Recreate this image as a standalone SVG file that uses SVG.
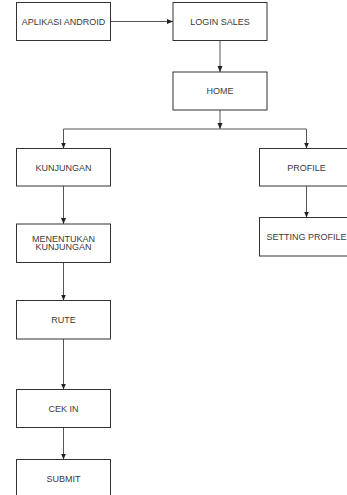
<svg xmlns="http://www.w3.org/2000/svg" width="347" height="495" viewBox="0 0 347 495">
  <style>
    .box rect { fill: #ffffff; stroke: #333333; stroke-width: 1; }
    .box text { font-family: "Liberation Sans", Arial, sans-serif; font-size: 9px; fill: #3a3a3a; text-anchor: middle; }
    .conn { fill: none; stroke: #555555; stroke-width: 1; }
  </style>
  <defs>
    <marker id="arrow" viewBox="0 0 6 6" refX="6" refY="3" markerWidth="6" markerHeight="6" markerUnits="userSpaceOnUse" orient="auto">
      <path d="M0,0.5 L6,3 L0,5.5 Z" fill="#222222"/>
    </marker>
  </defs>
  <rect width="347" height="495" fill="#ffffff"/>

  <g id="connectors">
    <path class="conn" d="M110.5,21.5 H173" marker-end="url(#arrow)"/>
    <path class="conn" d="M220,40.5 V72" marker-end="url(#arrow)"/>
    <path class="conn" d="M220,110 V129" marker-end="url(#arrow)"/>
    <path class="conn" d="M63.5,129 H306.5"/>
    <path class="conn" d="M63.5,129 V148.5" marker-end="url(#arrow)"/>
    <path class="conn" d="M306.5,129 V148.5" marker-end="url(#arrow)"/>
    <path class="conn" d="M63.5,186 V224" marker-end="url(#arrow)"/>
    <path class="conn" d="M306.5,186 V217.5" marker-end="url(#arrow)"/>
    <path class="conn" d="M63.5,262.5 V300.5" marker-end="url(#arrow)"/>
    <path class="conn" d="M63.5,339 V389.5" marker-end="url(#arrow)"/>
    <path class="conn" d="M63.5,427.5 V459.5" marker-end="url(#arrow)"/>
  </g>

  <g id="aplikasi-android" class="box">
    <rect x="16.5" y="2.5" width="94" height="38"/>
    <text x="63.5" y="24.5">APLIKASI ANDROID</text>
  </g>
  <g id="login-sales" class="box">
    <rect x="173" y="2.5" width="94" height="38"/>
    <text x="220" y="24.5">LOGIN SALES</text>
  </g>
  <g id="home" class="box">
    <rect x="173" y="72" width="94" height="38"/>
    <text x="220" y="94">HOME</text>
  </g>
  <g id="kunjungan" class="box">
    <rect x="16.5" y="148.5" width="94" height="37.5"/>
    <text x="63.5" y="170.5">KUNJUNGAN</text>
  </g>
  <g id="profile" class="box">
    <rect x="259.5" y="148.5" width="94" height="37.5"/>
    <text x="306.5" y="170.5">PROFILE</text>
  </g>
  <g id="menentukan-kunjungan" class="box">
    <rect x="16.5" y="224" width="94" height="38.5"/>
    <text x="63.5" y="241.5">MENENTUKAN</text>
    <text x="63.5" y="250">KUNJUNGAN</text>
  </g>
  <g id="setting-profile" class="box">
    <rect x="259.5" y="217.5" width="94" height="38.5"/>
    <text x="306.5" y="240">SETTING PROFILE</text>
  </g>
  <g id="rute" class="box">
    <rect x="16.5" y="300.5" width="94" height="38.5"/>
    <text x="63.5" y="323">RUTE</text>
  </g>
  <g id="cek-in" class="box">
    <rect x="16.5" y="389.5" width="94" height="38"/>
    <text x="63.5" y="411.5">CEK IN</text>
  </g>
  <g id="submit" class="box">
    <rect x="16.5" y="459.5" width="94" height="38"/>
    <text x="63.5" y="481.5">SUBMIT</text>
  </g>
</svg>
